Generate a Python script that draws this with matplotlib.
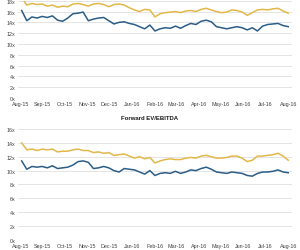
import matplotlib
matplotlib.use("Agg")
import matplotlib.pyplot as plt
import matplotlib.dates as mdates
import pandas as pd

plt.rcParams['font.family'] = ['Liberation Sans', 'DejaVu Sans']

# weekly observations, Aug-15 to Aug-16
dates = pd.date_range('2015-08-03', periods=53, freq='7D')

# top panel (untitled multiple)
top_blue = [16.2, 14.3, 15.0, 14.8,
            15.1, 14.9, 15.2, 14.4, 14.2,
            14.8, 15.6, 15.7, 15.9,
            14.3, 14.6, 14.8, 14.9, 14.3,
            13.7, 14.0, 14.1, 13.8,
            13.6, 13.2, 12.8, 13.5, 12.4,
            12.8, 13.0, 12.9, 13.3,
            12.9, 13.4, 13.8, 13.6,
            14.2, 14.4, 14.1, 13.2, 13.0,
            12.8, 13.0, 13.2, 13.0,
            12.6, 13.0, 12.4, 13.3,
            13.6, 13.7, 13.8, 13.4, 13.2]
top_gold = [18.6, 17.2, 17.5, 17.3,
            17.4, 17.0, 17.2, 16.8, 17.0,
            16.9, 17.4, 17.5, 17.3,
            17.0, 17.4, 17.5, 17.3, 16.9,
            17.3, 17.4, 17.2, 16.7,
            16.3, 16.0, 16.4, 16.3, 15.0,
            15.6, 15.8, 15.9, 16.0,
            15.8, 16.1, 16.2, 16.0,
            16.4, 16.6, 16.3, 16.0, 15.8,
            15.9, 16.3, 16.2, 15.9,
            15.3, 15.8, 16.3, 16.4,
            16.3, 16.5, 16.6, 16.1, 15.7]

# bottom panel: Forward EV/EBITDA
bot_blue = [11.4, 10.2, 10.6, 10.5,
            10.6, 10.4, 10.7, 10.3, 10.4,
            10.5, 10.8, 11.3, 11.4,
            11.2, 10.3, 10.4, 10.6, 10.4,
            10.0, 9.8, 10.3, 10.2,
            10.1, 9.8, 9.5, 10.0, 9.3,
            9.6, 9.7, 9.6, 9.9,
            9.6, 9.8, 10.1, 10.0,
            10.3, 10.5, 10.2, 9.8, 9.7,
            9.6, 9.8, 9.7, 9.6,
            9.3, 9.2, 9.6, 9.8,
            9.8, 9.9, 10.1, 9.8, 9.7]
bot_gold = [14.0, 13.0, 13.1, 12.9,
            13.1, 13.0, 13.1, 12.7, 12.8,
            12.8, 13.0, 13.1, 12.9,
            12.9, 12.6, 12.7, 12.5, 12.6,
            12.2, 12.3, 12.4, 12.1,
            11.8, 12.0, 11.7, 11.9, 11.1,
            11.4, 11.6, 11.7, 11.6,
            11.6, 11.8, 11.9, 11.8,
            12.1, 12.2, 12.0, 11.8, 11.8,
            11.9, 12.1, 12.1, 11.8,
            11.3, 11.5, 12.1, 12.1,
            12.2, 12.3, 12.5, 12.1, 11.5]

blue = '#2b5d86'
gold = '#e3b84a'

fig = plt.figure(figsize=(3.0, 2.51), dpi=100)
ax1 = fig.add_axes([0.06, 0.606, 0.913, 0.387])
ax2 = fig.add_axes([0.06, 0.040, 0.913, 0.442])


def style(ax, ymax):
    ax.set_ylim(0, ymax)
    ax.set_yticks(range(0, ymax + 1, 2))
    ax.set_yticklabels([f'{v}x' for v in range(0, ymax + 1, 2)])
    ax.set_xlim(pd.Timestamp('2015-07-29'), pd.Timestamp('2016-08-06'))
    ax.xaxis.set_major_locator(mdates.MonthLocator())
    ax.xaxis.set_major_formatter(mdates.DateFormatter('%b-%y'))
    ax.grid(axis='y', color='#d9d9d9', linewidth=0.5)
    ax.set_axisbelow(True)
    for s in ax.spines.values():
        s.set_visible(False)
    ax.tick_params(length=0, labelsize=3.9, colors='#404040', pad=2)


ax1.plot(dates, top_blue, color=blue, linewidth=1.1)
ax1.plot(dates, top_gold, color=gold, linewidth=1.1)
style(ax1, 18)

ax2.plot(dates, bot_blue, color=blue, linewidth=1.1)
ax2.plot(dates, bot_gold, color=gold, linewidth=1.1)
style(ax2, 16)

fig.text(0.5, 1 - 119 / 251, 'Forward EV/EBITDA', ha='center', va='center',
         fontsize=4.3, fontweight='bold', color='#1a1a1a')

fig.savefig('out.png', dpi=100)
